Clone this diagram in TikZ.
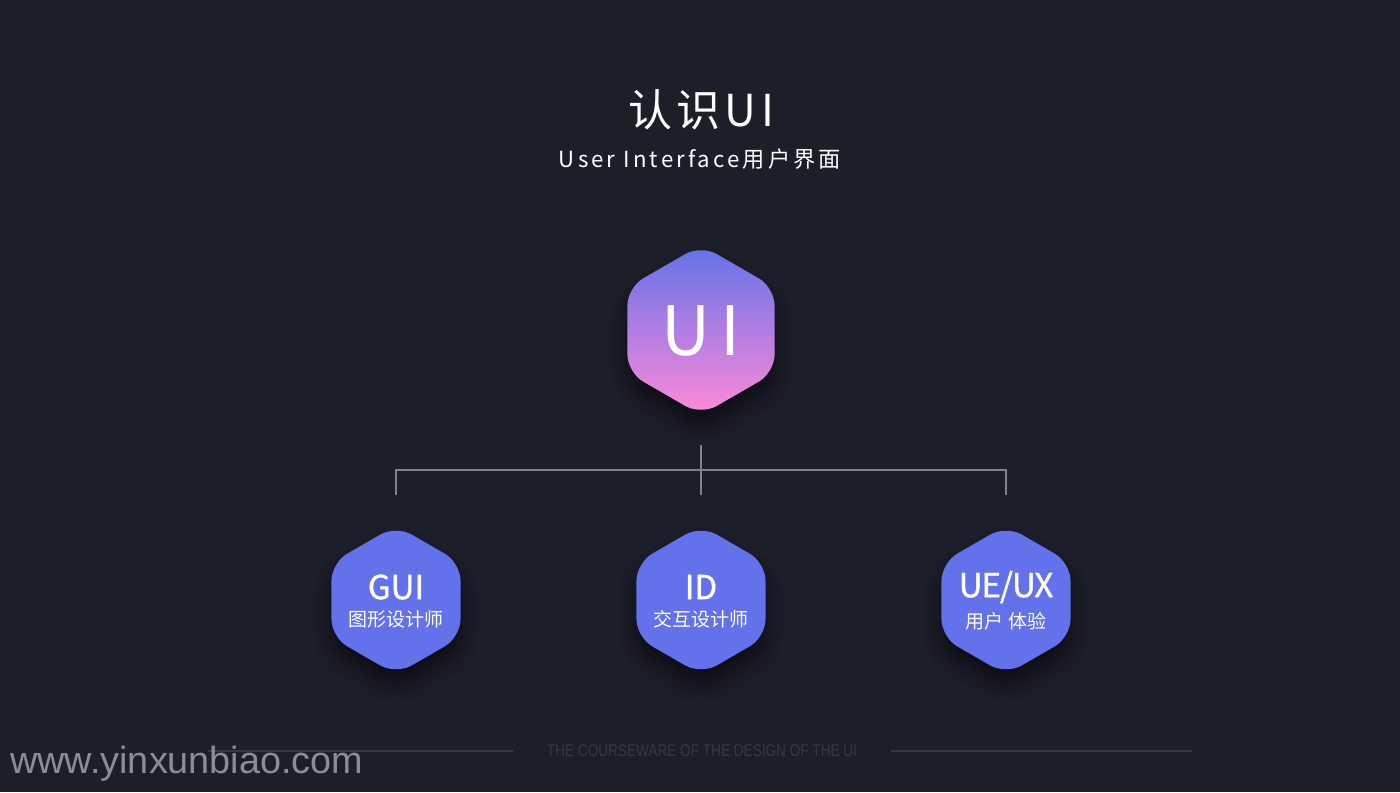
\documentclass[tikz,border=0pt]{standalone}
\usepackage{fontspec}
\usetikzlibrary{shapes.geometric,shadows.blur}
\setmainfont{Noto Sans CJK SC}
\newfontfamily\cjk{Noto Sans CJK SC}
\newfontfamily\cjkM[FakeBold=1.2]{Noto Sans CJK SC}
\newfontfamily\cjkMn[FakeBold=1.2,LetterSpace=-3]{Noto Sans CJK SC}
\newfontfamily\cjkT[LetterSpace=10]{Noto Sans CJK SC}
\newfontfamily\cjkS[LetterSpace=14]{Noto Sans CJK SC}
\newfontfamily\cjkU[LetterSpace=15]{Noto Sans CJK SC}
\newfontfamily\wmfont{Liberation Sans}
\newfontfamily\condfont[FakeStretch=0.8]{Liberation Sans}
\definecolor{bg}{RGB}{28,30,42}
\definecolor{hexblue}{RGB}{99,113,234}
\definecolor{gtop}{RGB}{98,114,234}
\definecolor{gbot}{RGB}{255,138,216}
\definecolor{conncol}{RGB}{128,130,142}
\definecolor{wmcol}{RGB}{139,141,150}
\definecolor{footcol}{RGB}{52,55,70}
\tikzset{
  hexa/.style={regular polygon, regular polygon sides=6, regular polygon rotate=30,
    inner sep=0pt, rounded corners=9pt,
    blur shadow={shadow xshift=0pt, shadow yshift=-7pt, shadow blur radius=9pt, shadow opacity=55}},
  bighex/.style={hexa, minimum size=85pt, top color=gtop, bottom color=gbot, draw=none},
  smallhex/.style={hexa, minimum size=74.5pt, fill=hexblue, draw=none},
  conn/.style={draw=conncol, line width=1.1pt},
  foot/.style={draw=footcol, line width=0.6pt},
  hexlabel/.style={text=white, inner sep=0pt, font=\cjkM\fontsize{16.5}{18}\selectfont},
  hexsub/.style={text=white, inner sep=0pt, font=\cjk\fontsize{9.5}{11}\selectfont},
}
\begin{document}
\begin{tikzpicture}[x=0.5pt,y=-0.5pt]
\fill[bg] (0,0) rectangle (1400,792);
\useasboundingbox (0,0) rectangle (1400,792);

% title
\node[text=white, inner sep=0pt] (title) at (701,110) {\cjkT\fontsize{22}{24}\selectfont 认识UI};
\node[text=white, inner sep=0pt] (subtitle) at (700,159) {\cjkS\fontsize{11.1}{13}\selectfont User Interface用户界面};

% main hexagon
\node[bighex] (ui) at (701,330) {};
\node[text=white, inner sep=0pt] (uitext) at (701,331) {\cjkU\fontsize{34}{36}\selectfont UI};

% sub hexagons
\node[smallhex] (gui) at (396,600) {};
\node[smallhex] (id) at (701,600) {};
\node[smallhex] (ux) at (1006,600) {};

\node[hexlabel] (gui-a) at (396,587) {GUI};
\node[hexsub] (gui-b) at (396,619) {图形设计师};
\node[hexlabel] (id-a) at (701,587) {ID};
\node[hexsub] (id-b) at (701,619) {交互设计师};
\node[hexlabel] (ux-a) at (1006,587) {\cjkMn\fontsize{16.5}{18}\selectfont UE/UX};
\node[hexsub] (ux-b) at (1006,621) {用户 体验};

% connectors
\coordinate (bar) at (701,470);
\draw[conn] ([yshift=-15pt]ui.south) -- ([yshift=15pt]id.north);
\draw[conn] ([yshift=15pt]gui.north) |- (bar) -| ([yshift=15pt]ux.north);

% footer
\node[text=footcol, inner sep=0pt] (foottext) at (702,751) {\condfont\fontsize{8.5}{10}\selectfont THE COURSEWARE OF THE DESIGN OF THE UI};
\coordinate (fl1) at (208,751);
\coordinate (fr2) at (1192,751);
\draw[foot] (fl1) -- ([xshift=-17pt]foottext.west);
\draw[foot] ([xshift=17pt]foottext.east) -- (fr2);

% watermark
\node[text=wmcol, anchor=base west, inner sep=0pt] (wm) at (10,773) {\wmfont\fontsize{18.9}{20}\selectfont www.yinxunbiao.com};
\end{tikzpicture}
\end{document}
